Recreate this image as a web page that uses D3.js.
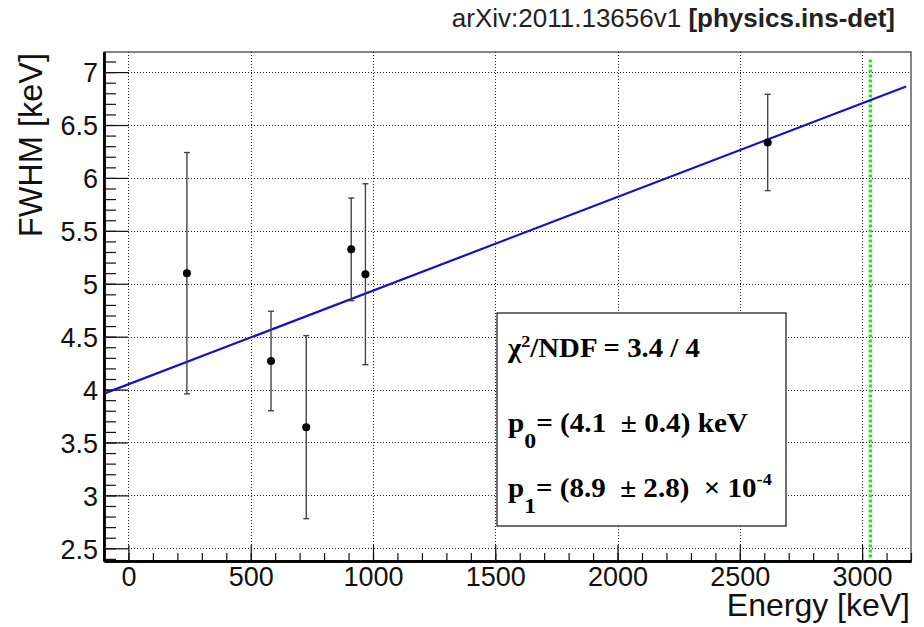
<!DOCTYPE html>
<html>
<head>
<meta charset="utf-8">
<script src="https://cdn.jsdelivr.net/npm/d3@7"></script>
<style>
  html, body { margin: 0; padding: 0; background: #fff; }
  svg { display: block; }
  text { white-space: pre; }
</style>
</head>
<body>
<svg id="chart" width="924" height="627"></svg>
<script>
// ---- data ----
const energies = [239, 583, 727, 911, 969, 2614];          // keV
const fwhmValues = [5.10, 4.27, 3.645, 5.325, 5.09, 6.335]; // keV
const fwhmErrors = [1.14, 0.47, 0.865, 0.485, 0.855, 0.455];
const fitP0 = 4.05;       // keV (drawn fit)
const fitP1 = 8.85e-4;    // slope
const fitRange = [-92, 3180];
const qValue = 3034;      // keV, green marker line
const qLineRange = [2.4, 7.12];
const xDomain = [-100, 3200];
const yDomain = [2.38, 7.19];
const xMajorTicks = [0, 500, 1000, 1500, 2000, 2500, 3000];
const yMajorTicks = [2.5, 3, 3.5, 4, 4.5, 5, 5.5, 6, 6.5, 7];
const yTickLabels = ["2.5", "3", "3.5", "4", "4.5", "5", "5.5", "6", "6.5", "7"];
const xTitle = "Energy [keV]";
const yTitle = "FWHM [keV]";
const headerRegular = "arXiv:2011.13656v1 ";
const headerBold = "[physics.ins-det]";

// ---- layout ----
const svg = d3.select("#chart");
const L = 104, R = 911, T = 52, B = 561;
const x = d3.scaleLinear().domain(xDomain).range([L, R]);
const y = d3.scaleLinear().domain(yDomain).range([B, T]);
const sans = "'Liberation Sans', Arial, Helvetica, sans-serif";
const serif = "'Liberation Serif', 'Times New Roman', Times, serif";

// header
const hdr = svg.append("text").attr("x", 895).attr("y", 27).attr("text-anchor", "end")
  .attr("font-family", sans).attr("font-size", 26).attr("fill", "#222");
hdr.append("tspan").text(headerRegular);
hdr.append("tspan").attr("font-weight", "bold").text(headerBold);

// grid
const grid = svg.append("g").attr("stroke", "#222").attr("stroke-width", 1).attr("stroke-dasharray", "1,2");
grid.selectAll("line.gx").data(xMajorTicks).join("line")
  .attr("x1", d => Math.round(x(d)) + 0.5).attr("x2", d => Math.round(x(d)) + 0.5)
  .attr("y1", T).attr("y2", B);
grid.selectAll("line.gy").data(yMajorTicks).join("line")
  .attr("y1", d => Math.round(y(d)) + 0.5).attr("y2", d => Math.round(y(d)) + 0.5)
  .attr("x1", L).attr("x2", R);

// frame
svg.append("rect").attr("x", L).attr("y", T).attr("width", R - L).attr("height", B - T)
  .attr("fill", "none").attr("stroke", "#333").attr("stroke-width", 1.2);

// axes using d3 axis generators
const xMinor = d3.range(-100, 3201, 100);
const yMinor = d3.range(24, 72, 1).map(v => v / 10);

const xAxisMinor = d3.axisBottom(x).tickValues(xMinor).tickSizeInner(-8).tickSizeOuter(0).tickFormat("");
const xAxisMajor = d3.axisBottom(x).tickValues(xMajorTicks).tickSizeInner(-16).tickSizeOuter(0)
  .tickPadding(24).tickFormat(d3.format("d"));
const yAxisMinor = d3.axisLeft(y).tickValues(yMinor).tickSizeInner(-12).tickSizeOuter(0).tickFormat("");
const yAxisMajor = d3.axisLeft(y).tickValues(yMajorTicks).tickSizeInner(-24).tickSizeOuter(0)
  .tickPadding(30).tickFormat((d, i) => yTickLabels[i]);

function styleAxis(g) {
  g.select(".domain").attr("stroke", "#000").attr("stroke-width", 2.5);
  g.selectAll(".tick line").attr("stroke", "#111").attr("stroke-width", 1.2);
  g.selectAll(".tick text").attr("fill", "#111").attr("font-family", sans).attr("font-size", 27);
}
svg.append("g").attr("transform", `translate(0,${B})`).call(xAxisMinor).call(styleAxis)
  .selectAll(".tick text").remove();
const gx = svg.append("g").attr("transform", `translate(0,${B})`).call(xAxisMajor).call(styleAxis);
gx.selectAll(".tick text").attr("dy", "0.71em").attr("y", 6);
svg.append("g").attr("transform", `translate(${L},0)`).call(yAxisMinor).call(styleAxis)
  .selectAll(".tick text").remove();
const gy = svg.append("g").attr("transform", `translate(${L},0)`).call(yAxisMajor).call(styleAxis);
gy.selectAll(".tick text").attr("x", -6).attr("dy", "0.36em");

// axis titles
svg.append("text").attr("x", 910).attr("y", 616).attr("text-anchor", "end")
  .attr("font-family", sans).attr("font-size", 32).attr("fill", "#111").text(xTitle);
svg.append("text").attr("transform", "translate(41.5,53) rotate(-90)").attr("text-anchor", "end")
  .attr("font-family", sans).attr("font-size", 32.5).attr("fill", "#111").text(yTitle);

// green Q-value line
svg.append("line").attr("x1", x(qValue)).attr("x2", x(qValue))
  .attr("y1", y(qLineRange[1])).attr("y2", y(qLineRange[0]))
  .attr("stroke", "#2ee02e").attr("stroke-width", 3.5).attr("stroke-dasharray", "3,2");

// fit line
const line = d3.line().x(d => x(d)).y(d => y(fitP0 + fitP1 * d));
svg.append("path").datum(fitRange).attr("d", line)
  .attr("fill", "none").attr("stroke", "#1212c8").attr("stroke-width", 2.2);

// error bars + points
const pts = energies.map((e, i) => ({ e, v: fwhmValues[i], err: fwhmErrors[i] }));
const eb = svg.append("g").attr("stroke", "#444").attr("stroke-width", 1.4);
eb.selectAll("line.v").data(pts).join("line")
  .attr("x1", d => x(d.e)).attr("x2", d => x(d.e))
  .attr("y1", d => y(d.v + d.err)).attr("y2", d => y(d.v - d.err));
eb.selectAll("line.ct").data(pts).join("line")
  .attr("x1", d => x(d.e) - 3).attr("x2", d => x(d.e) + 3)
  .attr("y1", d => y(d.v + d.err)).attr("y2", d => y(d.v + d.err));
eb.selectAll("line.cb").data(pts).join("line")
  .attr("x1", d => x(d.e) - 3).attr("x2", d => x(d.e) + 3)
  .attr("y1", d => y(d.v - d.err)).attr("y2", d => y(d.v - d.err));
svg.append("g").selectAll("circle").data(pts).join("circle")
  .attr("cx", d => x(d.e)).attr("cy", d => y(d.v)).attr("r", 4).attr("fill", "#000");

// stats box
const bx = 497, by = 313, bw = 289, bh = 213;
svg.append("rect").attr("x", bx).attr("y", by).attr("width", bw).attr("height", bh)
  .attr("fill", "#fff").attr("stroke", "#111").attr("stroke-width", 1.2);
const tg = svg.append("g").attr("font-family", serif).attr("font-weight", "bold")
  .attr("font-size", 27).attr("fill", "#000");

function statLine(yBase, targetRight, build) {
  const g = tg.append("g").attr("transform", `translate(508,${yBase})`);
  const t = g.append("text").attr("x", 0).attr("y", 0);
  build(t);
  const w = t.node().getComputedTextLength();
  const s = (targetRight - 508) / w;
  g.attr("transform", `translate(508,${yBase}) scale(${s},1)`);
}

statLine(357, 700, t => {
  t.append("tspan").text("χ");
  t.append("tspan").attr("font-size", 17).attr("dy", -10).text("2");
  t.append("tspan").attr("dy", 10).text("/NDF = 3.4 / 4");
});
statLine(432, 748, t => {
  t.append("tspan").text("p");
  t.append("tspan").attr("font-size", 22).attr("dy", 16).text("0");
  t.append("tspan").attr("dy", -16).text("= (4.1  ± 0.4) keV");
});
statLine(497, 772, t => {
  t.append("tspan").text("p");
  t.append("tspan").attr("font-size", 22).attr("dy", 16).text("1");
  t.append("tspan").attr("dy", -16).text("= (8.9  ± 2.8)  × 10");
  t.append("tspan").attr("font-size", 17).attr("dy", -12).text("-4");
});
</script>
</body>
</html>
